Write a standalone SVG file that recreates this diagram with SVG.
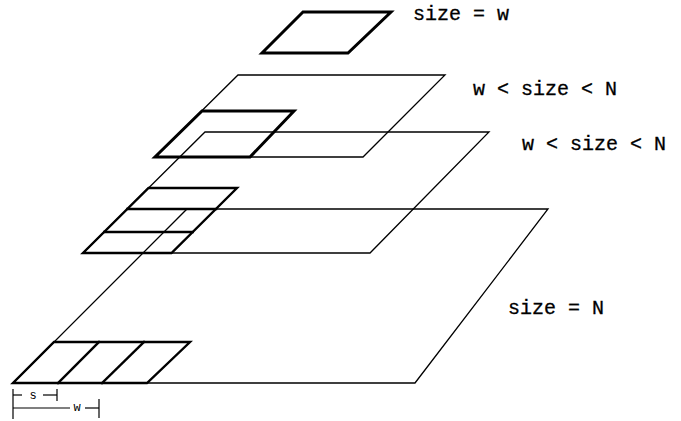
<svg xmlns="http://www.w3.org/2000/svg" width="681" height="421" viewBox="0 0 681 421">
  <style>
    .thin { fill: none; stroke: #000; stroke-width: 1.3; stroke-linejoin: miter; }
    .thick { fill: none; stroke: #000; stroke-width: 3; stroke-linejoin: miter; }
    .grid { fill: none; stroke: #000; stroke-width: 2.4; stroke-linecap: square; }
    .dim { fill: none; stroke: #000; stroke-width: 1.2; }
    .label { font-family: "Courier New", "Liberation Mono", "DejaVu Sans Mono", monospace; font-size: 20px; fill: #000; stroke: #000; stroke-width: 0.3; }
    .small { font-family: "Courier New", "Liberation Mono", "DejaVu Sans Mono", monospace; font-size: 12px; fill: #000; }
  </style>
  <rect width="681" height="421" fill="#fff"/>

  <!-- top level: a single window -->
  <g id="level-w">
    <polygon class="thick" points="303,12 391,12 348,53 262,53" stroke-width="3.5"/>
    <text class="label" x="413" y="20">size = w</text>
  </g>

  <!-- second level with its window -->
  <g id="level-2">
    <polygon class="thin" points="238,75 445,75 363,157 155,157"/>
    <polygon class="thick" points="202,111 294,111 250,157 155,157"/>
    <text class="label" x="473" y="95">w &lt; size &lt; N</text>
  </g>

  <!-- third level with overlapping windows -->
  <g id="level-3">
    <polygon class="thin" points="205,132 489,132 370,253 83,253"/>
    <polygon class="grid" points="148.5,188 237,188 171.5,253 83,253"/>
    <line class="grid" x1="127.4" y1="209" x2="216" y2="209"/>
    <line class="grid" x1="104.2" y1="232" x2="192.7" y2="232"/>
    <text class="label" x="522" y="150">w &lt; size &lt; N</text>
  </g>

  <!-- base level with sliding windows -->
  <g id="level-N">
    <polygon class="thin" points="187,209 548,209 415,383 13,383"/>
    <polygon class="grid" points="54,342 190,342 147,383 13,383"/>
    <line class="grid" x1="58" y1="383" x2="99" y2="342"/>
    <line class="grid" x1="102" y1="383" x2="144" y2="342"/>
    <text class="label" x="508" y="314">size = N</text>
  </g>

  <!-- step and window dimensions -->
  <g id="dimensions">
    <line class="dim" x1="13" y1="389" x2="13" y2="419"/>
    <line class="dim" x1="13" y1="395" x2="22" y2="395"/>
    <text class="small" x="33" y="399" text-anchor="middle">s</text>
    <line class="dim" x1="43" y1="395" x2="57" y2="395"/>
    <line class="dim" x1="57" y1="389" x2="57" y2="401"/>
    <line class="dim" x1="13" y1="408" x2="70" y2="408"/>
    <text class="small" x="77" y="411" text-anchor="middle">w</text>
    <line class="dim" x1="85" y1="408" x2="99" y2="408"/>
    <line class="dim" x1="99" y1="399" x2="99" y2="418"/>
  </g>
</svg>
